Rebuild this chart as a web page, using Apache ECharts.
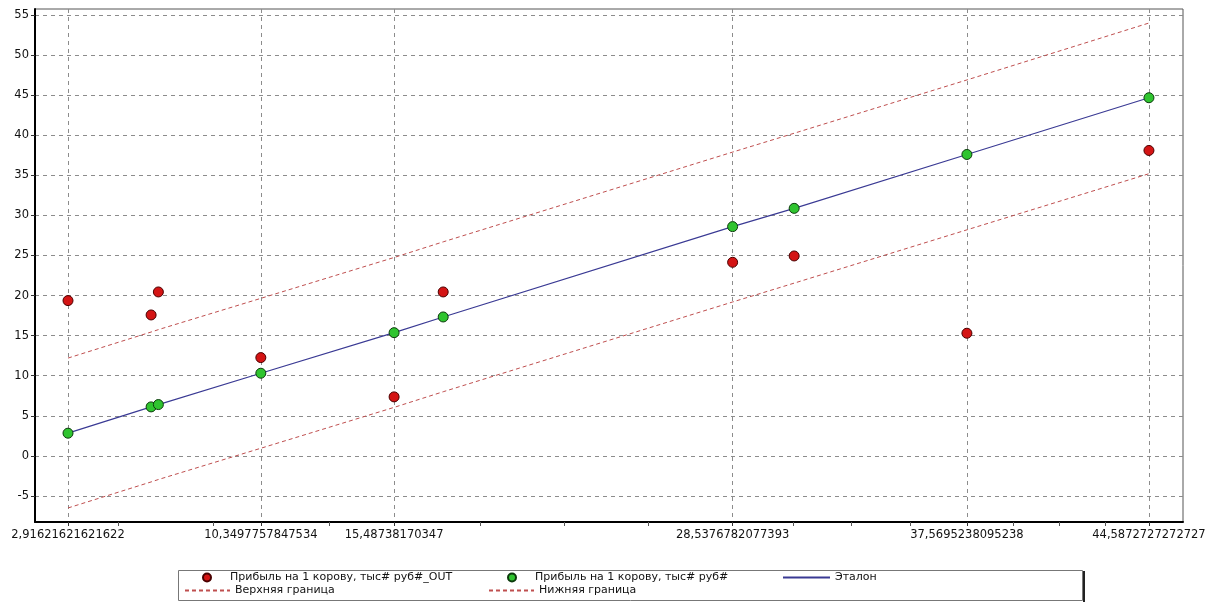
<!DOCTYPE html>
<html>
<head>
<meta charset="utf-8">
<script src="https://cdn.jsdelivr.net/npm/echarts@6/dist/echarts.min.js"></script>
<style>
html,body{margin:0;padding:0;background:#fff;}
#chart{width:1216px;height:602px;}
</style>
</head>
<body>
<div id="chart"></div>
<script>
// ---- data ----
const xValues = [2.91621621621622, 6.12, 6.40, 10.3497757847534, 15.48738170347, 17.38, 28.5376782077393, 30.91, 37.5695238095238, 44.5872727272727];
const outValues = [19.37, 17.58, 20.45, 12.26, 7.36, 20.45, 24.15, 24.94, 15.3, 38.1];
const refValues = [2.83, 6.11, 6.40, 10.31, 15.37, 17.33, 28.6, 30.88, 37.6, 44.68];
const upperValues = [12.2, 15.45, 15.75, 19.65, 24.75, 26.7, 37.9, 40.25, 46.9, 54.0];
const lowerValues = [-6.5, -3.25, -2.95, 0.95, 6.05, 8.0, 19.2, 21.55, 28.2, 35.2];

const xLabelValues = [2.91621621621622, 10.3497757847534, 15.48738170347, 28.5376782077393, 37.5695238095238, 44.5872727272727];
const xLabelTexts = ['2,91621621621622', '10,3497757847534', '15,48738170347', '28,5376782077393', '37,5695238095238', '44,5872727272727'];
const xMinorTicks = [4.84, 8.51, 12.98, 18.80, 22.04, 25.28, 30.86, 33.10, 35.38, 39.35, 41.12, 42.89];
const yTicks = [-5, 0, 5, 10, 15, 20, 25, 30, 35, 40, 45, 50, 55];

const names = {
  out: 'Прибыль на 1 корову, тыс# руб#_OUT',
  ref: 'Прибыль на 1 корову, тыс# руб#',
  etalon: 'Эталон',
  upper: 'Верхняя граница',
  lower: 'Нижняя граница'
};

const zip = (xs, ys) => xs.map((x, i) => [x, ys[i]]);

const FONT = 'DejaVu Sans';
const gridDash = { color: '#8c8c8c', width: 1, type: [4, 4] };

const chart = echarts.init(document.getElementById('chart'), null, { renderer: 'canvas' });

function lineLegend(name, left, top, w) {
  return {
    data: [name], left: left, top: top, orient: 'horizontal',
    padding: 0, itemWidth: w, itemHeight: 8, selectedMode: false,
    itemStyle: { opacity: 0 },
    textStyle: { fontFamily: FONT, fontSize: 11, color: '#111' }
  };
}
function dotLegend(name, left, top, pad) {
  return {
    data: [{ name: name, icon: 'circle' }], left: left, top: top, orient: 'horizontal',
    padding: 0, itemWidth: 10, itemHeight: 8, selectedMode: false,
    textStyle: { fontFamily: FONT, fontSize: 11, color: '#111', padding: [0, 0, 0, pad] }
  };
}

chart.setOption({
  animation: false,
  backgroundColor: '#fff',
  grid: { left: 35, right: 33, top: 9, bottom: 80, show: true, borderColor: '#555', borderWidth: 1, containLabel: false },
  xAxis: [
    {
      type: 'value', min: 1.644, max: 45.9, position: 'bottom',
      axisLine: { show: true, onZero: false, lineStyle: { color: '#000', width: 2 } },
      axisTick: { show: true, length: 4, lineStyle: { color: '#333' }, customValues: xLabelValues },
      axisLabel: { customValues: xLabelValues, color: '#111', fontFamily: FONT, fontSize: 11.5, margin: 7,
        formatter: v => { const i = xLabelValues.findIndex(t => Math.abs(t - v) < 1e-6); return i >= 0 ? xLabelTexts[i] : ''; } },
      splitLine: { show: true, lineStyle: gridDash }
    },
    {
      type: 'value', min: 1.644, max: 45.9, position: 'bottom', offset: 0,
      axisLine: { show: false, onZero: false },
      axisTick: { show: true, length: 4, lineStyle: { color: '#555' }, customValues: xMinorTicks },
      axisLabel: { show: false },
      splitLine: { show: false }
    }
  ],
  yAxis: {
    type: 'value', min: -8.25, max: 55.75,
    axisLine: { show: true, onZero: false, lineStyle: { color: '#000', width: 2 } },
    axisTick: { show: true, length: 4, lineStyle: { color: '#333' }, customValues: yTicks },
    axisLabel: { customValues: yTicks, color: '#111', fontFamily: FONT, fontSize: 11.5, margin: 6 },
    splitLine: { show: true, lineStyle: gridDash }
  },
  legend: [
    dotLegend(names.out, 202, 572, 13),
    dotLegend(names.ref, 507, 572, 13),
    lineLegend(names.etalon, 782, 572, 47),
    lineLegend(names.upper, 184, 585, 45),
    lineLegend(names.lower, 488, 585, 45)
  ],
  graphic: [
    { type: 'rect', shape: { x: 178.5, y: 570.5, width: 904, height: 30 }, style: { fill: 'none', stroke: '#777', lineWidth: 1 }, z: 0 },
    { type: 'line', shape: { x1: 1084, y1: 571, x2: 1084, y2: 602 }, style: { stroke: '#222', lineWidth: 2 }, z: 0 }
  ],
  series: [
    {
      name: names.upper, type: 'line', data: zip(xValues, upperValues), symbol: 'none', z: 2,
      lineStyle: { color: '#bf4f4f', width: 1, type: [4, 3] }, itemStyle: { color: '#bf4f4f' }
    },
    {
      name: names.lower, type: 'line', data: zip(xValues, lowerValues), symbol: 'none', z: 2,
      lineStyle: { color: '#bf4f4f', width: 1, type: [4, 3] }, itemStyle: { color: '#bf4f4f' }
    },
    {
      name: names.etalon, type: 'line', data: zip(xValues, refValues), symbol: 'none', z: 3,
      lineStyle: { color: '#3a3a94', width: 1.2 }, itemStyle: { color: '#3a3a94' }
    },
    {
      name: names.out, type: 'scatter', data: zip(xValues, outValues), symbol: 'circle', symbolSize: 10, z: 5,
      itemStyle: { color: '#d41414', borderColor: '#4a0000', borderWidth: 1, opacity: 1 }
    },
    {
      name: names.ref, type: 'scatter', data: zip(xValues, refValues), symbol: 'circle', symbolSize: 10, z: 6,
      itemStyle: { color: '#2fc42f', borderColor: '#0c3a0c', borderWidth: 1, opacity: 1 }
    }
  ]
});
</script>
</body>
</html>
